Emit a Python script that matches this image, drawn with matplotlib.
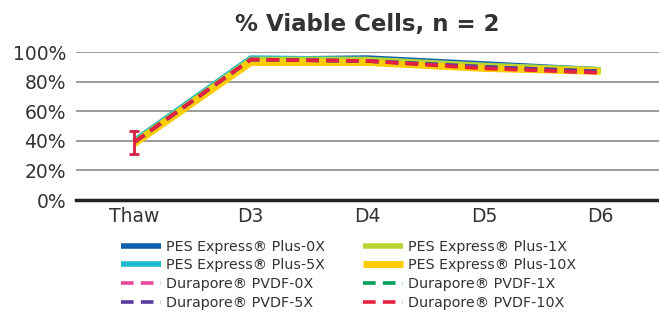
import matplotlib
matplotlib.use("Agg")
import matplotlib.pyplot as plt
from matplotlib.ticker import PercentFormatter

categories = ["Thaw", "D3", "D4", "D5", "D6"]

pes_0x = [39, 95, 96, 92, 88]
pes_1x = [39, 95, 95, 91, 88]
pes_5x = [40, 96, 95, 91, 88]
pes_10x = [38, 93, 93, 89, 87]
dur_0x = [39, 95, 94, 90, 86]
dur_1x = [39, 95, 94, 90, 87]
dur_5x = [39, 95, 94, 90, 87]
dur_10x = [39, 95, 94, 89, 86]
err_10x = [8, 0, 0, 0, 0]

labels = {
    "pes_0x": "PES Express® Plus-0X",
    "pes_1x": "PES Express® Plus-1X",
    "pes_5x": "PES Express® Plus-5X",
    "pes_10x": "PES Express® Plus-10X",
    "dur_0x": "Durapore® PVDF-0X",
    "dur_1x": "Durapore® PVDF-1X",
    "dur_5x": "Durapore® PVDF-5X",
    "dur_10x": "Durapore® PVDF-10X",
}

fig = plt.figure(figsize=(6.59, 3.16), dpi=100)
ax = fig.add_axes([0.115, 0.367, 0.885, 0.468])
x = list(range(len(categories)))

h = {}
h["pes_0x"], = ax.plot(x, pes_0x, color="#0F5FAA", lw=4, solid_capstyle="butt", clip_on=False, zorder=3)
h["pes_5x"], = ax.plot(x, pes_5x, color="#1DB9CF", lw=4, solid_capstyle="butt", clip_on=False, zorder=3)
h["pes_1x"], = ax.plot(x, pes_1x, color="#B8D433", lw=4, solid_capstyle="butt", clip_on=False, zorder=3)
h["pes_10x"], = ax.plot(x, pes_10x, color="#FFCC00", lw=5, solid_capstyle="butt", clip_on=False, zorder=3)
dash = (0, (3.5, 2.0))
h["dur_0x"], = ax.plot(x, dur_0x, color="#E8489C", lw=2.6, ls=dash, clip_on=False, zorder=4)
h["dur_1x"], = ax.plot(x, dur_1x, color="#00A05A", lw=2.6, ls=dash, clip_on=False, zorder=4)
h["dur_5x"], = ax.plot(x, dur_5x, color="#5B3A9E", lw=2.6, ls=dash, clip_on=False, zorder=4)
h["dur_10x"], = ax.plot(x, dur_10x, color="#E8203F", lw=2.6, ls=dash, clip_on=False, zorder=5)
ax.errorbar([x[0]], [dur_10x[0]], yerr=[err_10x[0]], fmt="none", ecolor="#D81E45",
            elinewidth=2, capsize=3.5, capthick=2, zorder=6)

ax.set_xlim(-0.5, len(categories) - 0.5)
ax.set_ylim(0, 100)
ax.set_yticks([0, 20, 40, 60, 80, 100])
ax.yaxis.set_major_formatter(PercentFormatter(decimals=0))
ax.set_xticks(x)
ax.set_xticklabels(categories)
ax.tick_params(axis="both", length=0, labelsize=13.5, colors="#333333", labelcolor="#333333")
ax.tick_params(axis="y", pad=7)
ax.tick_params(axis="x", pad=5)
for sp in ["top", "right", "left"]:
    ax.spines[sp].set_visible(False)
ax.spines["bottom"].set_color("#222222")
ax.spines["bottom"].set_linewidth(2.5)
ax.grid(axis="y", color="#8a8a8a", lw=1.2, zorder=0)
ax.set_axisbelow(True)

ax.set_title("% Viable Cells, n = 2", fontsize=16.5, fontweight="bold", color="#333333", pad=15)

order = ["pes_0x", "pes_5x", "dur_0x", "dur_5x", "pes_1x", "pes_10x", "dur_1x", "dur_10x"]
fig.legend([h[k] for k in order], [labels[k] for k in order], ncol=2,
           loc="upper left", bbox_to_anchor=(0.183, 0.242), frameon=False,
           fontsize=10.3, handlelength=2.8, handletextpad=0.4, columnspacing=2.6,
           labelspacing=0.33, borderaxespad=0, borderpad=0, labelcolor="#333333")

fig.savefig("out.png", dpi=100)
